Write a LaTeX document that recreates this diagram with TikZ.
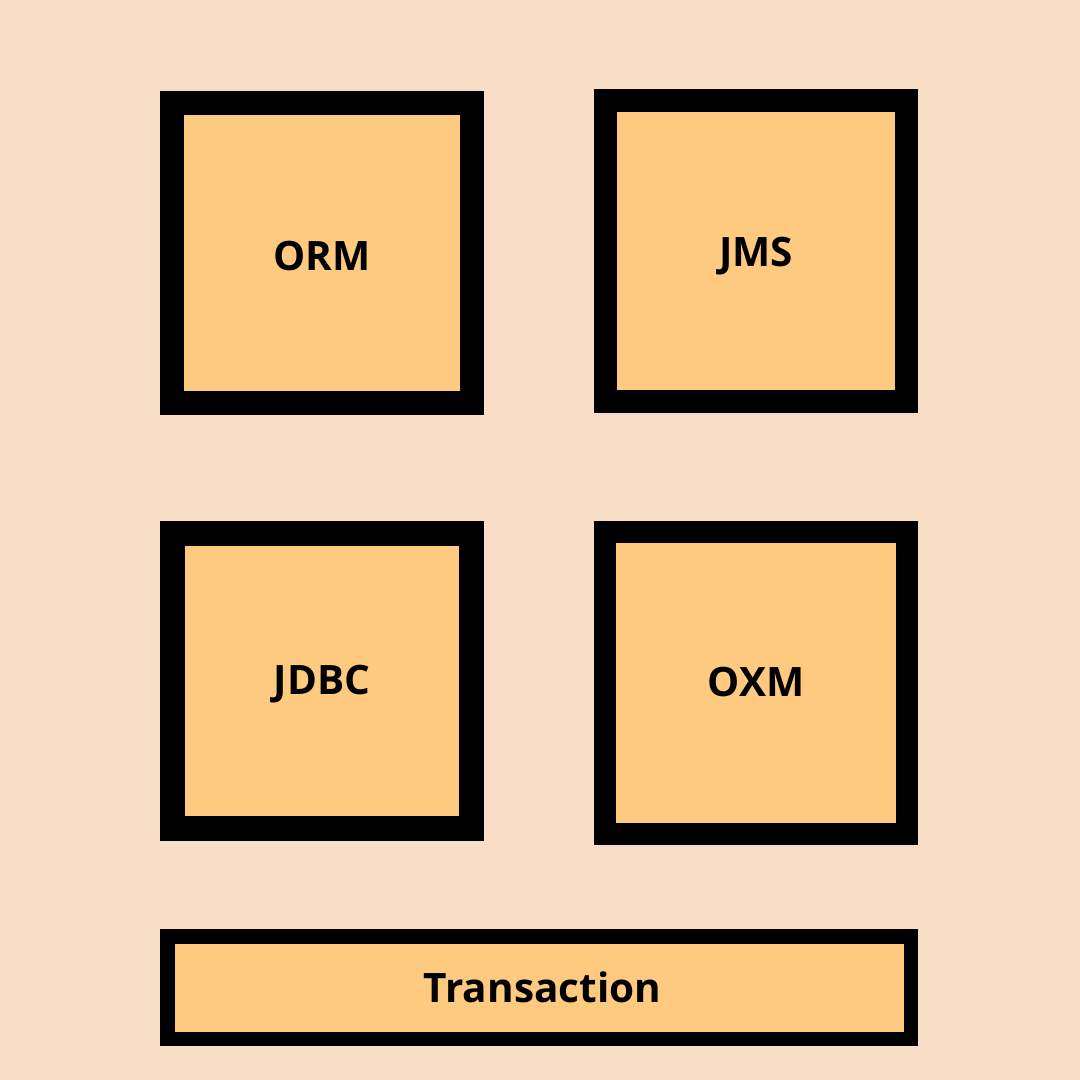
\documentclass[tikz,border=0pt]{standalone}
\usepackage{fontspec}
\setmainfont{Open Sans}
\definecolor{bgpeach}{HTML}{F8DEC6}
\definecolor{boxfill}{HTML}{FECA80}
\newcommand{\shiftlab}[2]{\raisebox{#1}[\height][\depth]{#2}}
\begin{document}
\begin{tikzpicture}[x=1pt,y=-1pt,
  modbox/.style={draw=black,fill=boxfill,rectangle,inner sep=0pt,
    font=\bfseries\fontsize{40.5}{48}\selectfont,text=black}]
\fill[bgpeach] (0,0) rectangle (1080,1080);
\useasboundingbox (0,0) rectangle (1080,1080);
\node[modbox,line width=24pt,minimum width=300pt,minimum height=300pt] (orm) at (322,253) {\shiftlab{-3pt}{ORM}};
\node[modbox,line width=23pt,minimum width=301pt,minimum height=301pt] (jms) at (756,251) {\shiftlab{-5pt}{JMS}};
\node[modbox,line width=25pt,minimum width=299pt,minimum height=295pt] (jdbc) at (322,681) {\shiftlab{-3pt}{JDBC}};
\node[modbox,line width=22pt,minimum width=302pt,minimum height=302pt] (oxm) at (756,683) {\shiftlab{1pt}{OXM}};
\node[modbox,line width=14.5pt,minimum width=743.5pt,minimum height=102.5pt] (tx) at (539,987.5) {\hspace*{7pt}Transaction};
\end{tikzpicture}
\end{document}
